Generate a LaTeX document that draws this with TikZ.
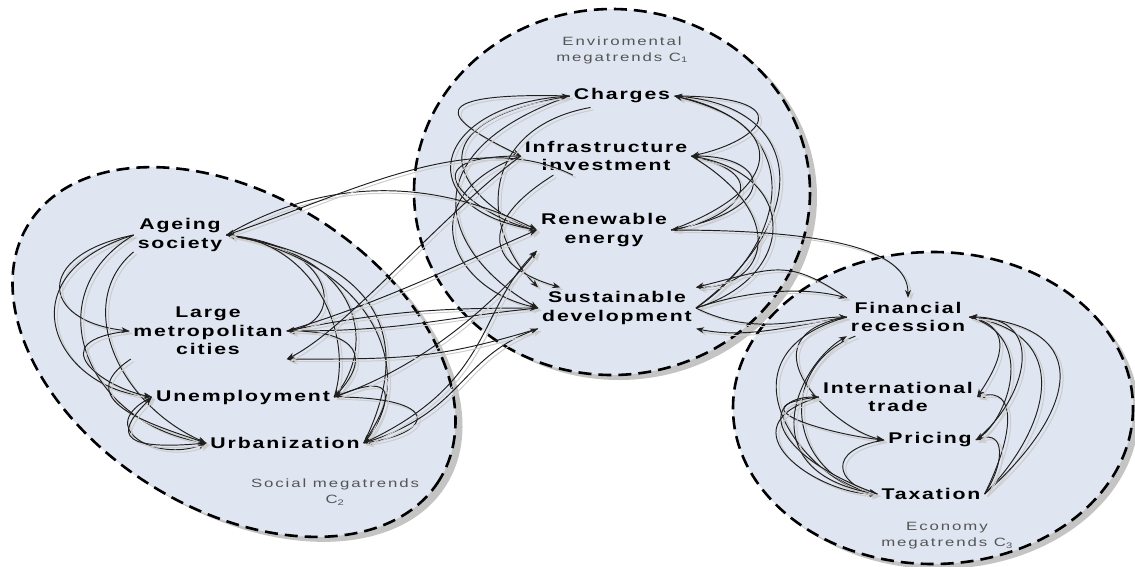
\documentclass[tikz,border=0pt]{standalone}
\usepackage{fontspec}
\usetikzlibrary{arrows.meta}
\newfontfamily\labfont[FakeStretch=1.37,LetterSpace=12]{Liberation Sans}
\newfontfamily\smallfont[FakeStretch=1.4,LetterSpace=16]{Liberation Sans}
\definecolor{clusterfill}{RGB}{223,229,241}
\definecolor{shadowgray}{RGB}{196,196,196}
\definecolor{smallgray}{RGB}{85,85,85}
\tikzset{
  trend/.style={font=\labfont\bfseries\fontsize{15.5}{18.5}\selectfont, align=center, inner sep=4pt, text=black},
  grouplabel/.style={font=\smallfont\fontsize{12}{16}\selectfont, align=center, inner sep=0pt, text=smallgray},
  clusterfillst/.style={fill=clusterfill, draw=none},
  clusterline/.style={draw=black, line width=2.6pt, dash pattern=on 13pt off 7pt},
  clustershadow/.style={fill=shadowgray, draw=none},
  link/.style={draw=black!88, line width=0.95pt, -{Stealth[length=8pt,width=6pt]},
     preaction={draw=gray!40, line width=1pt, transform canvas={xshift=3pt,yshift=-2.5pt}}},
}
\begin{document}
\begin{tikzpicture}[x=1pt,y=-1pt]
\useasboundingbox (0,0) rectangle (1135,566);
% shadows
\fill[clustershadow, rotate around={-32:(241,357)}] (241,357) ellipse [x radius=242, y radius=157];
\fill[clustershadow] (619,197) ellipse [x radius=198, y radius=183];
\fill[clustershadow] (939,413) ellipse [x radius=200, y radius=156];
% fills
\fill[clusterfillst, rotate around={-32:(234,352)}] (234,352) ellipse [x radius=242, y radius=157];
\fill[clusterfillst] (612,192) ellipse [x radius=198, y radius=183];
\fill[clusterfillst] (933,408) ellipse [x radius=200, y radius=156];
% dashed outlines
\draw[clusterline, rotate around={-32:(234,352)}] (234,352) ellipse [x radius=242, y radius=157];
\draw[clusterline] (612,192) ellipse [x radius=198, y radius=183];
\draw[clusterline] (933,408) ellipse [x radius=200, y radius=156];

% group labels
\node[grouplabel] (envlbl) at (622,50) {Enviromental\\megatrends C\textsubscript{1}};
\node[grouplabel] (soclbl) at (335,492) {Social megatrends\\C\textsubscript{2}};
\node[grouplabel] (ecolbl) at (947,536) {Economy\\megatrends C\textsubscript{3}};

% environmental
\node[trend] (ch)  at (622,96)  {Charges};
\node[trend] (inf) at (606,156) {Infrastructure\\investment};
\node[trend] (ren) at (604,230) {Renewable\\energy};
\node[trend] (sus) at (617,308) {Sustainable\\development};
% social
\node[trend] (age) at (180,235) {Ageing\\society};
\node[trend] (lmc) at (208,331) {Large\\metropolitan\\cities};
\node[trend] (une) at (243,397) {Unemployment};
\node[trend] (urb) at (285,443) {Urbanization};
% economy
\node[trend] (fin) at (908,317) {Financial\\recession};
\node[trend] (itr) at (898,397) {International\\trade};
\node[trend] (pri) at (930,440) {Pricing};
\node[trend] (tax) at (931,494) {Taxation};

% ---- environmental, left loops
\draw[link] (ch.west) .. controls +(-180,-5) and +(-50,-25) .. (inf.west);
\draw[link] (ch.west) .. controls +(-180,30) and +(-60,-20) .. (ren.west);
\draw[link] (ch.west) .. controls +(-170,60) and +(-90,-50) .. (sus.west);
\draw[link] (ch.200) .. controls +(-110,20) and +(-60,-60) .. (sus.north west);
\draw[link] (inf.west) .. controls +(-130,0) and +(-50,-10) .. (ren.west);
\draw[link] (inf.west) .. controls +(-110,40) and +(-90,-20) .. (sus.west);
\draw[link] (inf.200) .. controls +(-80,50) and +(-70,-20) .. (sus.160);
\draw[link] (ren.west) .. controls +(-130,-20) and +(-140,10) .. (ch.west);
% ---- environmental, right loops
\draw[link] (ch.east) .. controls +(130,0) and +(70,-15) .. (inf.east);
\draw[link] (inf.east) .. controls +(90,20) and +(60,-10) .. (ren.east);
\draw[link] (ren.east) .. controls +(110,-20) and +(80,0) .. (inf.east);
\draw[link] (sus.east) .. controls +(120,-90) and +(130,10) .. (ch.east);
\draw[link] (sus.east) .. controls +(90,-60) and +(140,30) .. (ch.east);
\draw[link] (sus.east) .. controls +(100,-30) and +(110,20) .. (inf.east);
\draw[link] (ren.east) .. controls +(110,-40) and +(120,30) .. (ch.east);
\draw[link] (inf.east) .. controls +(100,60) and +(70,0) .. (sus.north east);

% ---- social, left loops
\draw[link] (age.west) .. controls +(-100,20) and +(-90,-10) .. (lmc.west);
\draw[link] (age.west) .. controls +(-130,40) and +(-100,-10) .. (une.west);
\draw[link] (age.west) .. controls +(-100,60) and +(-120,-20) .. (urb.west);
\draw[link] (age.200) .. controls +(-60,50) and +(-90,-40) .. (urb.west);
\draw[link] (lmc.west) .. controls +(-90,10) and +(-50,-10) .. (une.west);
\draw[link] (lmc.200) .. controls +(-60,40) and +(-60,-20) .. (urb.west);
\draw[link] (une.west) .. controls +(-60,30) and +(-50,20) .. (urb.west);
\draw[link] (urb.west) .. controls +(-100,10) and +(-30,30) .. (une.west);
% ---- social, right loops
\draw[link] (age.east) .. controls +(110,10) and +(60,-10) .. (lmc.east);
\draw[link] (age.east) .. controls +(140,20) and +(40,-50) .. (une.east);
\draw[link] (age.east) .. controls +(160,30) and +(50,-60) .. (urb.east);
\draw[link] (urb.east) .. controls +(40,-80) and +(180,30) .. (age.east);
\draw[link] (une.east) .. controls +(20,-60) and +(90,10) .. (age.east);
\draw[link] (une.east) .. controls +(40,-40) and +(70,0) .. (lmc.east);
\draw[link] (une.east) .. controls +(110,0) and +(70,-10) .. (urb.east);
\draw[link] (urb.east) .. controls +(40,-60) and +(50,-20) .. (une.east);

% ---- social <-> environmental
\draw[link] (age.east) .. controls +(120,-70) and +(-80,-40) .. (ren.west);
\draw[link] (inf.210) .. controls +(-100,-50) and +(120,-40) .. (age.east);
\draw[link] (lmc.east) .. controls +(100,-20) and +(-100,0) .. (sus.west);
\draw[link] (sus.west) .. controls +(-100,10) and +(120,0) .. (lmc.east);
\draw[link] (lmc.east) .. controls +(100,-30) and +(-70,30) .. (ren.west);
\draw[link] (une.east) .. controls +(90,-30) and +(-40,50) .. (ren.south west);
\draw[link] (urb.east) .. controls +(100,-30) and +(-80,30) .. (sus.south west);
\draw[link] (urb.east) .. controls +(130,-60) and +(-60,60) .. (ren.south west);
\draw[link] (sus.south west) .. controls +(-100,30) and +(120,0) .. (lmc.south east);
\draw[link] (inf.west) .. controls +(-80,60) and +(60,-30) .. (lmc.south east);

% ---- environmental <-> economy
\draw[link] (sus.east) .. controls +(60,-20) and +(-40,-10) .. (fin.north west);
\draw[link] (ren.east) .. controls +(150,0) and +(0,-50) .. (fin.north);
\draw[link] (fin.west) .. controls +(-60,10) and +(50,10) .. (sus.south east);
\draw[link] (sus.east) .. controls +(60,30) and +(-40,0) .. (fin.west);
\draw[link] (fin.north west) .. controls +(-60,-40) and +(80,-20) .. (sus.north east);

% ---- economy, left loops
\draw[link] (fin.west) .. controls +(-110,20) and +(-50,-10) .. (pri.west);
\draw[link] (fin.west) .. controls +(-140,40) and +(-70,-10) .. (tax.west);
\draw[link] (fin.200) .. controls +(-80,30) and +(-90,-20) .. (tax.west);
\draw[link] (itr.west) .. controls +(-90,10) and +(-50,-5) .. (pri.west);
\draw[link] (itr.west) .. controls +(-100,30) and +(-60,0) .. (tax.west);
\draw[link] (pri.west) .. controls +(-60,10) and +(-40,-10) .. (tax.west);
\draw[link] (tax.west) .. controls +(-130,-20) and +(-50,30) .. (fin.south west);
\draw[link] (tax.west) .. controls +(-110,-40) and +(-60,0) .. (itr.west);
% ---- economy, right loops
\draw[link] (tax.east) .. controls +(60,-60) and +(110,20) .. (fin.east);
\draw[link] (tax.east) .. controls +(90,-80) and +(130,10) .. (fin.east);
\draw[link] (tax.east) .. controls +(30,-60) and +(40,-10) .. (itr.east);
\draw[link] (tax.east) .. controls +(20,-30) and +(30,-10) .. (pri.east);
\draw[link] (fin.east) .. controls +(50,10) and +(20,-30) .. (itr.east);
\draw[link] (fin.east) .. controls +(70,20) and +(30,-20) .. (pri.east);
\draw[link] (pri.east) .. controls +(50,-40) and +(80,0) .. (fin.east);
\end{tikzpicture}
\end{document}
